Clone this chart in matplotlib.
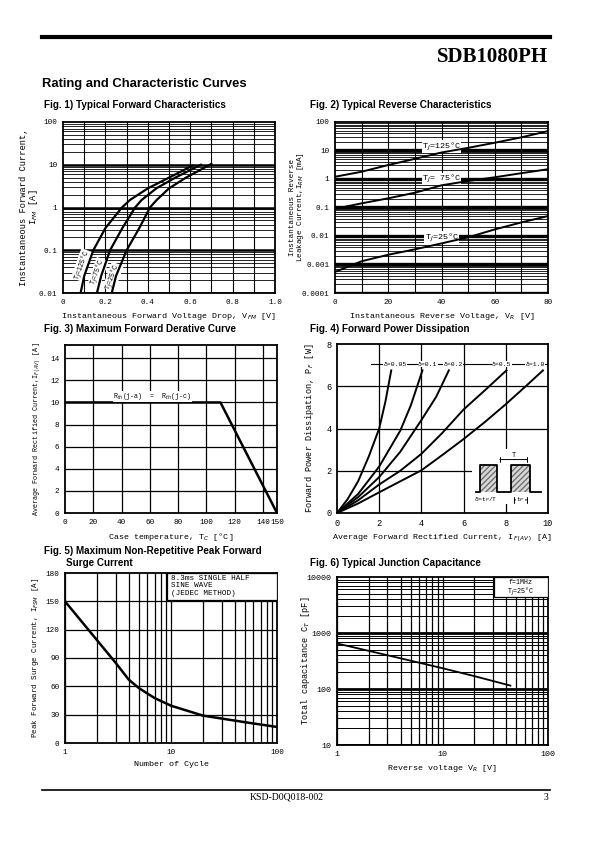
import numpy as np
import matplotlib.pyplot as plt
from matplotlib.lines import Line2D
from matplotlib.patches import Rectangle

# Fig 1 - forward characteristics (V, A)
vf_125 = [0.083, 0.10, 0.143, 0.20, 0.278, 0.316, 0.40, 0.50, 0.61]
if_125 = [0.01, 0.025, 0.1, 0.33, 1.0, 1.5, 2.8, 5.0, 9.5]
vf_75 = [0.16, 0.18, 0.222, 0.28, 0.34, 0.371, 0.44, 0.53, 0.65]
if_75 = [0.01, 0.025, 0.1, 0.33, 1.0, 1.5, 2.8, 5.0, 10.0]
vf_25 = [0.23, 0.25, 0.30, 0.36, 0.41, 0.442, 0.50, 0.58, 0.70]
if_25 = [0.01, 0.025, 0.1, 0.33, 1.0, 1.5, 2.8, 5.0, 10.5]

# Fig 2 - reverse characteristics (V, mA)
vr = [0, 10, 20, 30, 40, 50, 60, 70, 80]
ir_125 = [1.2, 1.8, 3.1, 5.1, 8.5, 12.4, 18.7, 29, 48]
ir_75 = [0.09, 0.14, 0.21, 0.33, 0.6, 0.85, 1.15, 1.6, 2.2]
ir_25 = [0.00055, 0.0013, 0.0022, 0.0034, 0.0055, 0.009, 0.017, 0.03, 0.05]

# Fig 3 - derating
tc = [0, 110, 150]
iav = [10, 10, 0]

# Fig 4 - power dissipation
i_005 = [0, 0.5, 1.0, 1.5, 2.0, 2.3, 2.57]
p_005 = [0, 0.65, 1.5, 2.66, 4.0, 5.3, 6.75]
i_01 = [0, 1, 2, 3, 3.5, 4.05]
p_01 = [0, 0.9, 2.2, 3.9, 5.1, 6.75]
i_02 = [0, 1, 2, 3, 4, 4.7, 5.3]
p_02 = [0, 0.75, 1.7, 2.9, 4.4, 5.5, 6.75]
i_05 = [0, 1, 2, 3, 4, 5, 6, 7, 8.03]
p_05 = [0, 0.6, 1.35, 2.0, 2.8, 3.8, 4.9, 5.8, 6.75]
i_10 = [0, 1, 2, 3, 4, 5, 6, 7, 8, 9, 9.76]
p_10 = [0, 0.45, 0.98, 1.5, 2.02, 2.75, 3.5, 4.3, 5.15, 6.05, 6.75]
duty_labels = ["δ=0.05", "δ=0.1", "δ=0.2", "δ=0.5", "δ=1.0"]
duty_label_x = [2.75, 4.3, 5.5, 7.8, 9.4]

# Fig 5 - surge current
cycles = [1, 2, 3, 4, 5, 7, 10, 20, 50, 100]
ifsm = [150, 109, 85, 67, 58, 47.6, 39.5, 29, 22, 17]

# Fig 6 - capacitance
vr_c = [1, 2, 5, 10, 20, 44]
ct = [650, 480, 320, 235, 170, 115]

plt.rcParams['font.family'] = ['Liberation Mono', 'DejaVu Sans']
plt.rcParams['mathtext.fontset'] = 'custom'
plt.rcParams['mathtext.rm'] = 'Liberation Mono'

W, H = 595, 842
fig = plt.figure(figsize=(5.95, 8.42), dpi=100)


def px_axes(l, t, r, b):
    ax = fig.add_axes([l / W, 1 - b / H, (r - l) / W, (b - t) / H])
    for s in ax.spines.values():
        s.set_linewidth(1.3)
    ax.tick_params(length=0, labelsize=5.5, pad=4)
    return ax


def ftext(x, y, s, **kw):
    fig.text(x / W, 1 - y / H, s, **kw)


def log_grid(ax, axis, lo, hi, major_lw=1.6, minor_lw=0.6):
    for e in range(lo, hi):
        for m in range(1, 10):
            v = m * 10.0 ** e
            lw = major_lw if m == 1 else minor_lw
            if axis == 'y':
                ax.axhline(v, color='k', lw=lw, zorder=1)
            else:
                ax.axvline(v, color='k', lw=lw, zorder=1)


# header / footer
fig.add_artist(Line2D([42 / W, 550 / W], [1 - 37 / H] * 2, lw=3, color='k'))
ftext(548, 57, "SDB1080PH", ha='right', va='center', fontsize=15,
      fontweight='bold', family='Liberation Serif')
ftext(42, 84, "Rating and Characteristic Curves", ha='left', va='center',
      fontsize=9.4, fontweight='bold', family='Liberation Sans')
fig.add_artist(Line2D([42 / W, 550 / W], [1 - 790 / H] * 2, lw=1.2, color='k'))
ftext(250, 797, "KSD-D0Q018-002", ha='left', va='center', fontsize=7,
      family='Liberation Serif')
ftext(548, 797, "3", ha='right', va='center', fontsize=7, family='Liberation Serif')

tkw = dict(ha='left', va='center', fontsize=7.1, fontweight='bold', family='Liberation Sans')
ftext(44, 105, "Fig. 1) Typical Forward Characteristics", **tkw)
ftext(310, 105, "Fig. 2) Typical Reverse Characteristics", **tkw)
ftext(44, 329, "Fig. 3) Maximum Forward Derative Curve", **tkw)
ftext(310, 329, "Fig. 4) Forward Power Dissipation", **tkw)
ftext(44, 551, "Fig. 5) Maximum Non-Repetitive Peak Forward", **tkw)
ftext(66, 563, "Surge Current", **tkw)
ftext(310, 563, "Fig. 6) Typical Junction Capacitance", **tkw)

# ---------- Fig 1
ax1 = px_axes(63, 122, 275, 293)
ax1.set_yscale('log')
ax1.set_xlim(0, 1.0)
ax1.set_ylim(0.01, 100)
log_grid(ax1, 'y', -2, 2, major_lw=1.8)
for v in np.arange(0.1, 1.0, 0.1):
    ax1.axvline(v, color='k', lw=0.8, zorder=1)
ax1.set_xticks([0, 0.2, 0.4, 0.6, 0.8, 1.0], ["0", "0.2", "0.4", "0.6", "0.8", "1.0"])
ax1.set_yticks([0.01, 0.1, 1, 10, 100], ["0.01", "0.1", "1", "10", "100"])
ax1.minorticks_off()
for v, i in [(vf_125, if_125), (vf_75, if_75), (vf_25, if_25)]:
    ax1.plot(v, i, color='k', lw=1.6, zorder=3)
lab_kw = dict(rotation=70, fontsize=4.8, ha='center', va='center', zorder=2,
              bbox=dict(fc='white', ec='none', pad=0.1))
ax1.text(0.090, 0.045, "T$_J$=125°C", **lab_kw)
ax1.text(0.166, 0.031, "T$_J$=75°C", **lab_kw)
ax1.text(0.236, 0.024, "T$_J$=25°C", **lab_kw)
ax1.set_xlabel("Instantaneous Forward Voltage Drop, V$_{FM}$ [V]", fontsize=6, labelpad=4)
ax1.set_ylabel("Instantaneous Forward Current,\nI$_{FM}$ [A]", fontsize=6.3,
               linespacing=0.9)
ax1.yaxis.set_label_coords(-0.11, 0.5)

# ---------- Fig 2
ax2 = px_axes(335, 122, 548, 293)
ax2.set_yscale('log')
ax2.set_xlim(0, 80)
ax2.set_ylim(0.0001, 100)
log_grid(ax2, 'y', -4, 2, major_lw=2.4)
for v in range(10, 80, 10):
    ax2.axvline(v, color='k', lw=0.8, zorder=1)
ax2.set_xticks([0, 20, 40, 60, 80], ["0", "20", "40", "60", "80"])
ax2.set_yticks([0.0001, 0.001, 0.01, 0.1, 1, 10, 100],
               ["0.0001", "0.001", "0.01", "0.1", "1", "10", "100"])
ax2.minorticks_off()
for i in [ir_125, ir_75, ir_25]:
    ax2.plot(vr, i, color='k', lw=1.4, zorder=3)
lab2 = dict(fontsize=6, ha='center', va='center', zorder=2,
            bbox=dict(fc='white', ec='none', pad=0.3))
ax2.text(40, 13.5, "T$_J$=125°C", **lab2)
ax2.text(40, 1.0, "T$_J$= 75°C", **lab2)
ax2.text(40, 0.0088, "T$_J$=25°C", **lab2)
ax2.set_xlabel("Instantaneous Reverse Voltage, V$_R$ [V]", fontsize=6, labelpad=4)
ax2.set_ylabel("Instantaneous Reverse\nLeakage Current,I$_{RM}$ [mA]", fontsize=5.5,
               linespacing=0.9)
ax2.yaxis.set_label_coords(-0.135, 0.5)

# ---------- Fig 3
ax3 = px_axes(65, 345, 277, 513)
ax3.set_xlim(0, 150)
ax3.set_ylim(0, 15.2)
for v in range(20, 150, 20):
    ax3.axvline(v, color='k', lw=0.9, zorder=1)
for v in range(2, 15, 2):
    ax3.axhline(v, color='k', lw=0.9, zorder=1)
ax3.set_xticks([0, 20, 40, 60, 80, 100, 120, 140, 150])
ax3.set_yticks(range(0, 15, 2))
ax3.plot(tc, iav, color='k', lw=1.8, zorder=3)
ax3.text(62, 10.55, "R$_{th}$(j-a)  =  R$_{th}$(j-c)", fontsize=4.8, ha='center',
         va='center', zorder=4, bbox=dict(fc='white', ec='none', pad=0.2))
ax3.set_xlabel("Case temperature, T$_C$ [°C]", fontsize=6, labelpad=4)
ax3.set_ylabel("Average Forward Rectified Current,I$_{F(AV)}$ [A]", fontsize=4.9)
ax3.yaxis.set_label_coords(-0.11, 0.5)

# ---------- Fig 4
ax4 = px_axes(337, 344, 548, 513)
ax4.set_xlim(0, 10)
ax4.set_ylim(0, 8)
for v in range(2, 10, 2):
    ax4.axvline(v, color='k', lw=0.9, zorder=1)
for v in range(2, 8, 2):
    ax4.axhline(v, color='k', lw=0.9, zorder=1)
ax4.set_xticks(range(0, 11, 2))
ax4.set_yticks(range(0, 9, 2))
ax4.tick_params(labelsize=6.2)
for i, p in [(i_005, p_005), (i_01, p_01), (i_02, p_02), (i_05, p_05), (i_10, p_10)]:
    ax4.plot(i, p, color='k', lw=1.4, zorder=3)
ax4.plot([1.6, 10], [7.05, 7.05], color='k', lw=0.8, zorder=2)
for s, x in zip(duty_labels, duty_label_x):
    ax4.text(x, 7.05, s, fontsize=4.6, ha='center', va='center', zorder=4,
             bbox=dict(fc='white', ec='none', pad=0.2))
# pulse inset
ax4.add_patch(Rectangle((6.38, 0.42), 3.6, 2.6, fc='white', ec='none', zorder=2))
ax4.plot([6.6, 6.77, 6.77, 7.59, 7.59, 8.27, 8.27, 9.13, 9.13, 9.66],
         [1.0, 1.0, 2.26, 2.26, 1.0, 1.0, 2.26, 2.26, 1.0, 1.0],
         color='k', lw=1.3, zorder=4)
for x0, x1 in [(6.77, 7.59), (8.27, 9.13)]:
    ax4.add_patch(Rectangle((x0, 1.0), x1 - x0, 1.26, fc='#d8d8d8', ec='#707070',
                            hatch='//////', lw=0, zorder=3))
ax4.annotate("", xy=(7.59, 2.53), xytext=(9.13, 2.53), zorder=4,
             arrowprops=dict(arrowstyle='|-|', lw=0.7, mutation_scale=2))
ax4.text(8.36, 2.72, "T", fontsize=5, ha='center', va='center', zorder=4)
ax4.text(7.05, 0.62, "δ=t$_P$/T", fontsize=4.5, ha='center', va='center', zorder=4)
ax4.annotate("", xy=(8.27, 0.62), xytext=(9.13, 0.62), zorder=4,
             arrowprops=dict(arrowstyle='|-|', lw=0.7, mutation_scale=2))
ax4.text(8.7, 0.62, "t$_P$", fontsize=4.5, ha='center', va='center', zorder=5,
         bbox=dict(fc='white', ec='none', pad=0.1))
ax4.set_xlabel("Average Forward Rectified Current, I$_{F(AV)}$ [A]", fontsize=6, labelpad=4)
ax4.set_ylabel("Forward Power Dissipation, P$_F$ [W]", fontsize=6.2)
ax4.yaxis.set_label_coords(-0.10, 0.5)

# ---------- Fig 5
ax5 = px_axes(65, 573, 277, 743)
ax5.set_xscale('log')
ax5.set_xlim(1, 100)
ax5.set_ylim(0, 180)
log_grid(ax5, 'x', 0, 2, major_lw=0.9, minor_lw=0.9)
for v in range(30, 180, 30):
    ax5.axhline(v, color='k', lw=0.9, zorder=1)
ax5.set_xticks([1, 10, 100], ["1", "10", "100"])
ax5.set_yticks(range(0, 181, 30))
ax5.minorticks_off()
ax5.plot(cycles, ifsm, color='k', lw=1.8, zorder=3)
ax5.add_patch(Rectangle((9.1, 151), 100 - 9.1, 29, fc='white', ec='k', lw=0.9, zorder=4))
ax5.text(9.9, 178, "8.3ms SINGLE HALF\nSINE WAVE\n(JEDEC METHOD)", fontsize=5.5,
         ha='left', va='top', linespacing=1.1, zorder=5)
ax5.set_xlabel("Number of Cycle", fontsize=6, labelpad=4)
ax5.set_ylabel("Peak Forward Surge Current, I$_{FSM}$ [A]", fontsize=5.4)
ax5.yaxis.set_label_coords(-0.115, 0.5)

# ---------- Fig 6
ax6 = px_axes(337, 577, 548, 745)
ax6.set_xscale('log')
ax6.set_yscale('log')
ax6.set_xlim(1, 100)
ax6.set_ylim(10, 10000)
log_grid(ax6, 'x', 0, 2, major_lw=0.9, minor_lw=0.9)
log_grid(ax6, 'y', 1, 4, major_lw=2.0, minor_lw=0.7)
ax6.set_xticks([1, 10, 100], ["1", "10", "100"])
ax6.set_yticks([10, 100, 1000, 10000], ["10", "100", "1000", "10000"])
ax6.minorticks_off()
ax6.tick_params(labelsize=6)
ax6.plot(vr_c, ct, color='k', lw=1.3, zorder=3)
ax6.add_patch(Rectangle((31, 4470), 100 - 31, 10000 - 4470, fc='white', ec='k', lw=0.9,
                        zorder=4))
ax6.text(55, 6300, "f=1MHz\nT$_J$=25°C", fontsize=4.8, ha='center', va='center',
         linespacing=0.95, zorder=5)
ax6.set_xlabel("Reverse voltage V$_R$ [V]", fontsize=6, labelpad=4)
ax6.set_ylabel("Total capacitance C$_T$ [pF]", fontsize=6.2)
ax6.yaxis.set_label_coords(-0.12, 0.5)

fig.savefig("out.png", dpi=100)
